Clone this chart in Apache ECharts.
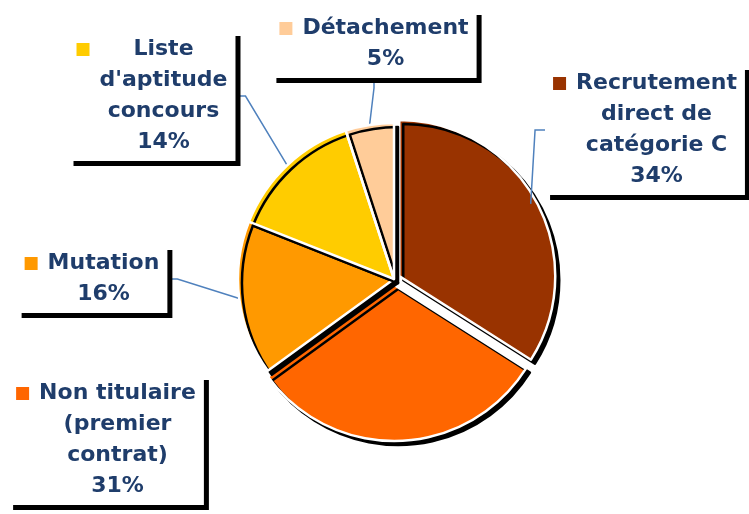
<!DOCTYPE html>
<html>
<head>
<meta charset="utf-8">
<script src="https://cdn.jsdelivr.net/npm/echarts@6/dist/echarts.min.js"></script>
<style>
  html, body { margin: 0; padding: 0; background: #fff; }
  #chart { width: 749px; height: 514px; }
</style>
</head>
<body>
<div id="chart"></div>
<script>
// slices, clockwise from 12 o'clock
var categories = ['Recrutement\ndirect de\ncatégorie C', 'Non titulaire\n(premier\ncontrat)', 'Mutation', "Liste\nd'aptitude\nconcours", 'Détachement'];
var shares = [34, 31, 16, 14, 5];
var colors = ['#993300', '#FF6600', '#FF9900', '#FFCC00', '#FFCC99'];
var exploded = [true, true, false, false, false];
var showLine = [true, false, true, true, true];

// where each label box sits (centre of box)
var labelPos = [[645, 130], [106, 440], [92, 279], [152, 96], [374, 44]];
var cx = 394, cy = 279, R = 156, pull = 6;

var rich = {
  t: { color: '#1F3D6B', fontFamily: 'DejaVu Sans', fontWeight: 'bold', fontSize: 22, lineHeight: 31, align: 'center' },
  g: { width: 10, height: 13, align: 'left' },
  sp: { width: 23, height: 13, align: 'left' }
};
colors.forEach(function (c, i) {
  rich['sq' + i] = { backgroundColor: c, width: 13, height: 13, align: 'left' };
});

var sliceStyle = {
  borderColor: '#fff',
  borderWidth: 2.5,
  shadowColor: '#000',
  shadowBlur: 0,
  shadowOffsetX: 4,
  shadowOffsetY: 4
};
var hidden = { color: 'transparent', borderWidth: 0, shadowColor: 'transparent' };

function pieData(only) {
  return categories.map(function (n, i) {
    var visible = only === undefined ? !exploded[i] : only === i;
    return {
      name: n,
      value: shares[i],
      itemStyle: visible ? { color: colors[i] } : hidden,
      labelLine: { show: only === undefined && showLine[i] }
    };
  });
}

var series = [{
  type: 'pie',
  z: 1,
  center: [cx, cy],
  radius: R,
  startAngle: 90,
  avoidLabelOverlap: false,
  silent: true,
  itemStyle: sliceStyle,
  label: {
    show: true,
    position: 'outside',
    align: 'center',
    backgroundColor: '#fff',
    shadowColor: '#000',
    shadowBlur: 0,
    shadowOffsetX: 5,
    shadowOffsetY: 5,
    padding: [3, 8, 3, 8],
    rich: rich,
    formatter: function (p) {
      var lines = p.name.split('\n');
      var out = lines.map(function (l, k) {
        return (k === 0 ? '{sq' + p.dataIndex + '|}{g|}' : '{sp|}') + '{t|' + l + '}';
      });
      out.push('{sp|}{t|' + p.value + '%}');
      return out.join('\n');
    }
  },
  labelLine: { show: true, length: 10, length2: 10, lineStyle: { color: '#4F81BD', width: 1.5 } },
  labelLayout: function (p) {
    var pos = labelPos[p.dataIndex];
    return { x: pos[0], y: pos[1], align: 'center', verticalAlign: 'middle' };
  },
  data: pieData()
}];

// pulled-out slices drawn as their own copies, shifted along their mid angle
var total = shares.reduce(function (a, b) { return a + b; }, 0);
var acc = 0;
shares.forEach(function (v, i) {
  var mid = (acc + v / 2) / total * 2 * Math.PI;
  acc += v;
  if (!exploded[i]) return;
  series.push({
    type: 'pie',
    z: 0,
    center: [cx + Math.sin(mid) * pull, cy - Math.cos(mid) * pull],
    radius: R,
    startAngle: 90,
    silent: true,
    itemStyle: sliceStyle,
    label: { show: false },
    labelLine: { show: false },
    data: pieData(i)
  });
});

echarts.init(document.getElementById('chart')).setOption({ animation: false, series: series });
</script>
</body>
</html>
